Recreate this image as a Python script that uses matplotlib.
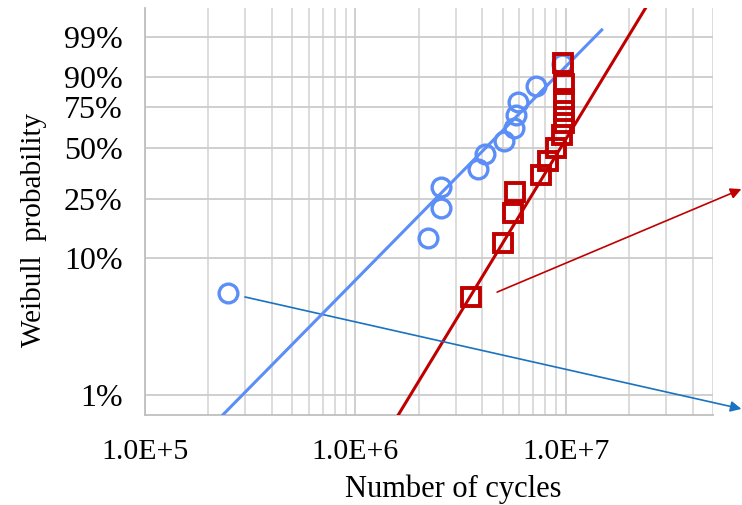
import numpy as np
import matplotlib
matplotlib.use("Agg")
import matplotlib.pyplot as plt
from matplotlib.ticker import FixedLocator, FixedFormatter, LogLocator, NullFormatter

# Failure data: cycles to failure and median-rank probability (%)
blue_cycles = [2.47e5, 2.22e6, 2.56e6, 2.56e6, 3.83e6, 4.13e6,
               5.08e6, 5.67e6, 5.80e6, 5.92e6, 7.21e6, 9.57e6]
blue_prob = [5.6, 13.7, 21.8, 29.8, 37.9, 46.0, 54.0, 62.1, 70.2, 78.2, 86.3, 94.4]

red_cycles = [3.55e6, 5.03e6, 5.61e6, 5.73e6, 7.62e6, 8.23e6, 8.98e6,
              9.58e6, 9.79e6, 9.79e6, 9.79e6, 9.79e6, 9.70e6]
red_prob = [5.2, 12.7, 20.1, 27.6, 35.1, 42.5, 50.0, 57.5, 64.9, 72.4, 79.9, 87.3, 94.8]

# Weibull fits (scale eta, shape beta) and the cycle range each fit line spans
blue_eta, blue_beta = 5.25e6, 1.59
blue_fit_range = [2.35e5, 1.48e7]
red_eta, red_beta = 1.09e7, 2.575
red_fit_range = [1.60e6, 2.6e7]

prob_ticks = [1, 10, 25, 50, 75, 90, 99]
prob_labels = ["1%", "10%", "25%", "50%", "75%", "90%", "99%"]
cycle_ticks = [1e5, 1e6, 1e7]
cycle_labels = ["1.0E+5", "1.0E+6", "1.0E+7"]

BLUE = "#5B8EF7"
RED = "#C00000"
ARROW_BLUE = "#1A72C0"
GRID = "#D9D9D9"
FONT = "Liberation Serif"


def weibull_fwd(p):
    p = np.clip(np.asarray(p, dtype=float), 1e-9, 100 - 1e-9) / 100.0
    return np.log(-np.log(1.0 - p))


def weibull_inv(y):
    y = np.asarray(y, dtype=float)
    return 100.0 * (1.0 - np.exp(-np.exp(y)))


def weibull_cdf_pct(x, eta, beta):
    x = np.asarray(x, dtype=float)
    return 100.0 * (1.0 - np.exp(-(x / eta) ** beta))


fig = plt.figure(figsize=(7.42, 5.05), dpi=100)
ax = fig.add_axes([0.1954, 0.1782, 0.9609 - 0.1954, 0.9842 - 0.1782])

ax.set_xscale("log")
ax.set_yscale("function", functions=(weibull_fwd, weibull_inv))
ax.set_xlim(1e5, 5e7)
ax.set_ylim(weibull_inv(-4.946), weibull_inv(2.024))

# fit lines
bx = np.geomspace(*blue_fit_range, 200)
ax.plot(bx, weibull_cdf_pct(bx, blue_eta, blue_beta), color=BLUE, lw=2.2, zorder=4)
rx = np.geomspace(*red_fit_range, 200)
ax.plot(rx, weibull_cdf_pct(rx, red_eta, red_beta), color=RED, lw=2.2, zorder=3)

# data points
ax.plot(blue_cycles, blue_prob, linestyle="none", marker="o", ms=13.5,
        mfc="none", mec=BLUE, mew=2.4, zorder=5)
ax.plot(red_cycles, red_prob, linestyle="none", marker="s", ms=12.5,
        mfc="none", mec=RED, mew=2.8, zorder=6)

# axes styling
ax.yaxis.set_major_locator(FixedLocator(prob_ticks))
ax.yaxis.set_major_formatter(FixedFormatter(prob_labels))
ax.yaxis.set_minor_locator(FixedLocator([]))
ax.xaxis.set_major_locator(FixedLocator(cycle_ticks))
ax.xaxis.set_major_formatter(FixedFormatter(cycle_labels))
ax.xaxis.set_minor_locator(LogLocator(base=10, subs=np.arange(2, 10), numticks=20))
ax.xaxis.set_minor_formatter(NullFormatter())

ax.grid(True, which="major", axis="both", color="#CCCCCC", lw=1.3, zorder=0)
ax.grid(True, which="minor", axis="x", color=GRID, lw=1.3, zorder=0)
ax.set_axisbelow(True)
for s in ["top", "right"]:
    ax.spines[s].set_visible(False)
for s in ["left", "bottom"]:
    ax.spines[s].set_color("#BFBFBF")
    ax.spines[s].set_linewidth(1.3)

ax.tick_params(axis="both", which="both", length=0)
ax.tick_params(axis="x", pad=17, labelsize=21.5)
ax.tick_params(axis="y", pad=16, labelsize=23)
for lab in ax.get_xticklabels() + ax.get_yticklabels():
    lab.set_fontfamily(FONT)

ax.set_xlabel("Number of cycles", fontsize=22, fontfamily=FONT)
ax.xaxis.set_label_coords(0.542, -0.145)
ax.set_ylabel("Weibull  probability", fontsize=21, fontfamily=FONT)
ax.yaxis.set_label_coords(-0.1725, 0.4545)

# pointer arrows
ax.annotate("", xy=(1.05, 0.015), xytext=(0.176, 0.290),
            xycoords="axes fraction", textcoords="axes fraction",
            annotation_clip=False,
            arrowprops=dict(arrowstyle="-|>", color=ARROW_BLUE, lw=1.2,
                            mutation_scale=16, shrinkA=0, shrinkB=0))
ax.annotate("", xy=(1.05, 0.555), xytext=(0.620, 0.302),
            xycoords="axes fraction", textcoords="axes fraction",
            annotation_clip=False,
            arrowprops=dict(arrowstyle="-|>", color=RED, lw=1.2,
                            mutation_scale=16, shrinkA=0, shrinkB=0))

fig.savefig("out.png", dpi=100)
